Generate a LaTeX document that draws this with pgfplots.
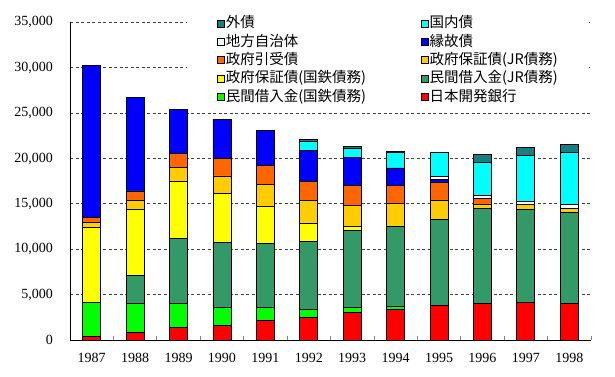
\documentclass[border=0pt]{standalone}
\usepackage{fontspec}
\setmainfont{Liberation Serif}
\newfontfamily\jp{Noto Sans CJK JP}
\usepackage{pgfplots}
\usepackage{pgfplotstable}
\pgfplotsset{compat=1.18}
\definecolor{cRed}{HTML}{FF0000}
\definecolor{cGreen}{HTML}{00FF00}
\definecolor{cSea}{HTML}{339966}
\definecolor{cYellow}{HTML}{FFFF00}
\definecolor{cGold}{HTML}{FFCC00}
\definecolor{cOrange}{HTML}{FF6600}
\definecolor{cBlue}{HTML}{0000FF}
\definecolor{cLocal}{HTML}{F4FFFF}
\definecolor{cCyan}{HTML}{00FFFF}
\definecolor{cTeal}{HTML}{168080}
\pgfplotstableread{
x red green sea yellow gold orange blue local cyan teal
0 410 3740 0 8310 490 550 16780 0 0 0
1 850 3220 3000 7310 1020 1020 10340 0 0 0
2 1400 2640 7150 6330 1480 1540 4840 0 0 0
3 1650 1950 7100 5470 1900 1980 4290 0 0 0
4 2200 1400 7040 4100 2390 2120 3850 0 0 0
5 2450 930 7430 2090 2500 2060 3440 0 1000 200
6 3000 600 8500 370 2380 2130 3180 0 940 200
7 3380 280 8880 0 2500 2010 1910 0 1730 100
8 3850 0 9430 0 2050 2020 360 260 2680 0
9 4040 0 10480 0 440 590 0 400 3600 880
10 4100 0 10310 0 520 0 0 290 5100 880
11 4040 0 10010 0 440 0 0 440 5720 910
}\data
\begin{document}
\begin{tikzpicture}
\useasboundingbox (0,0) rectangle (615pt,376pt);
\begin{axis}[
  at={(70pt,36pt)}, anchor=south west,
  width=521pt, height=317.7pt, scale only axis,
  ybar stacked, bar width=18pt,
  xmin=-0.5, xmax=11.5, ymin=0, ymax=35000,
  axis lines*=left,
  axis line style={line width=0.8pt},
  xtick={0,...,11},
  xticklabels={1987,1988,1989,1990,1991,1992,1993,1994,1995,1996,1997,1998},
  minor xtick={-0.5,0.5,...,11.5},
  major tick length=0pt, minor tick length=4.5pt, tick align=inside,
  minor tick style={line width=0.8pt},
  ytick={0,5000,...,35000},
  scaled y ticks=false,
  /pgf/number format/.cd, 1000 sep={,}, assume math mode=true, /pgfplots/.cd,
  tick label style={font=\fontsize{14}{16}\selectfont},
  yticklabel style={anchor=east, inner sep=0pt, xshift=-17pt},
  xticklabel style={anchor=north, inner sep=0pt, yshift=-12.7pt},
  ymajorgrids,
  major grid style={black!75, dash pattern=on 3pt off 2.5pt, line width=0.7pt},
  every axis plot/.append style={draw=black, line width=0.8pt},
  legend columns=2, reverse legend, legend cell align=left,
  legend image code/.code={\draw[#1,draw=black,line width=0.6pt] (0pt,-3.5pt) rectangle (7pt,3.5pt);},
  legend style={at={(0.2246,1.035)}, anchor=north west, draw=none, fill=white,
    inner xsep=30pt, inner ysep=4pt,
    font=\jp\fontsize{14.5}{16}\selectfont,
    nodes={inner sep=1pt, text height=11.5pt, text depth=3pt},
    row sep=1.8pt,
    /tikz/every even column/.append style={column sep=54pt}},
]
\addplot[fill=cRed] table[x=x,y=red]{\data};
\addplot[fill=cGreen] table[x=x,y=green]{\data};
\addplot[fill=cSea] table[x=x,y=sea]{\data};
\addplot[fill=cYellow] table[x=x,y=yellow]{\data};
\addplot[fill=cGold] table[x=x,y=gold]{\data};
\addplot[fill=cOrange] table[x=x,y=orange]{\data};
\addplot[fill=cBlue] table[x=x,y=blue]{\data};
\addplot[fill=cLocal] table[x=x,y=local]{\data};
\addplot[fill=cCyan] table[x=x,y=cyan]{\data};
\addplot[fill=cTeal] table[x=x,y=teal]{\data};
\legend{日本開発銀行,民間借入金(国鉄債務),民間借入金(JR債務),政府保証債(国鉄債務),政府保証債(JR債務),政府引受債,縁故債,地方自治体,国内債,外債}
\end{axis}
\end{tikzpicture}
\end{document}
